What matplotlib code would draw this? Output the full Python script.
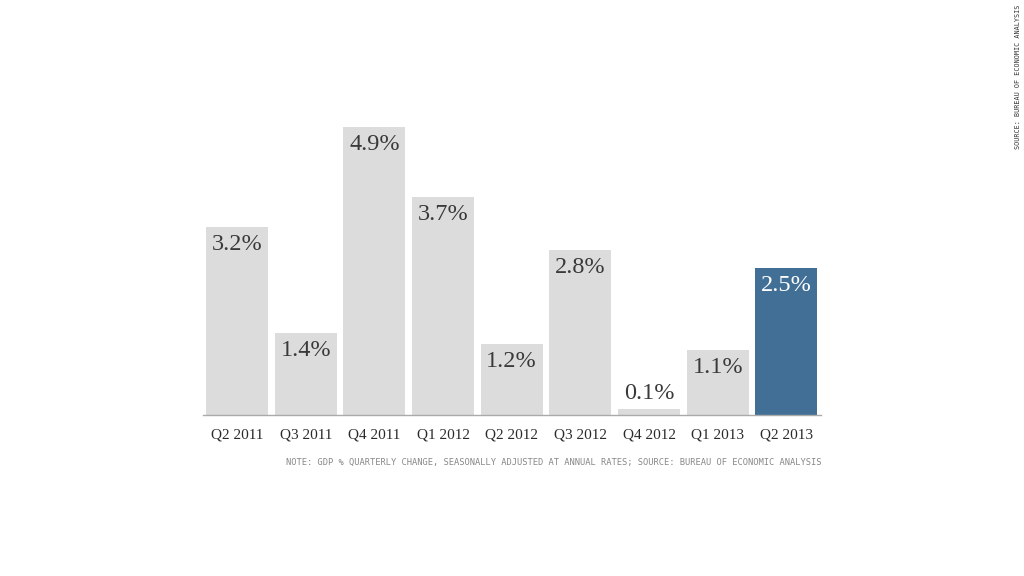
import numpy as np
import matplotlib
matplotlib.use("Agg")
import matplotlib.pyplot as plt

quarters = ["Q2 2011", "Q3 2011", "Q4 2011", "Q1 2012", "Q2 2012",
            "Q3 2012", "Q4 2012", "Q1 2013", "Q2 2013"]
gdp_change = [3.2, 1.4, 4.9, 3.7, 1.2, 2.8, 0.1, 1.1, 2.5]

note = ("NOTE: GDP % QUARTERLY CHANGE, SEASONALLY ADJUSTED AT ANNUAL RATES; "
        "SOURCE: BUREAU OF ECONOMIC ANALYSIS")
source = "SOURCE: BUREAU OF ECONOMIC ANALYSIS"

grey = "#dcdcdc"
blue = "#426f96"

fig = plt.figure(figsize=(10.24, 5.76), dpi=100)
ax = fig.add_axes([202.7 / 1024, 1 - 415 / 576, 618 / 1024, 353 / 576])

x = np.arange(len(quarters))
colors = [grey] * (len(quarters) - 1) + [blue]
ax.bar(x, gdp_change, width=0.9, color=colors, zorder=2)

for i, v in enumerate(gdp_change):
    if v < 0.6:
        # too small to hold the label, put it above the bar
        ax.text(i, v + 0.08, f"{v}%", ha="center", va="bottom",
                fontsize=17.5, family="Liberation Serif", color="#3a3a3a")
    else:
        ax.text(i, v - 0.12, f"{v}%", ha="center", va="top",
                fontsize=17.5, family="Liberation Serif",
                color="white" if i == len(quarters) - 1 else "#3a3a3a")

ax.set_xlim(-0.5, len(quarters) - 0.5)
ax.set_ylim(0, 6)
ax.set_xticks(x)
ax.set_xticklabels(quarters, family="Liberation Serif", fontsize=11,
                   color="#2a2a2a")
ax.tick_params(axis="x", length=0, pad=10)
ax.set_yticks([])
for s in ["top", "right", "left"]:
    ax.spines[s].set_visible(False)
ax.spines["bottom"].set_color("#aaaaaa")
ax.spines["bottom"].set_linewidth(1)

fig.text(821 / 1024, 1 - 462 / 576, note, ha="right", va="center",
         fontsize=6.3, family="DejaVu Sans Mono", color="#888888")
fig.text(1018 / 1024, 1 - 5 / 576, source, ha="center", va="top",
         rotation=90, fontsize=4.9, family="DejaVu Sans Mono",
         color="#333333")

fig.savefig("out.png", dpi=100)
